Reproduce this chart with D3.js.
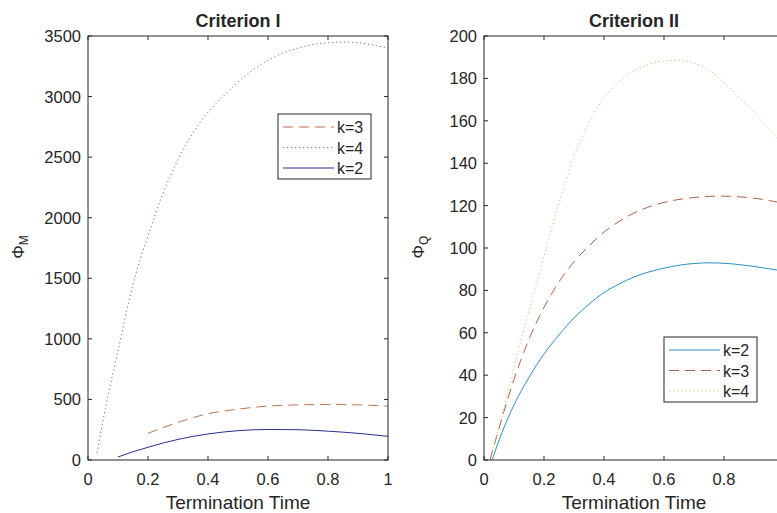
<!DOCTYPE html>
<html>
<head>
<meta charset="utf-8">
<script src="https://cdn.jsdelivr.net/npm/d3@7"></script>
<style>
  body { margin: 0; background: #fff; }
  text { font-family: Helvetica, Arial, "Liberation Sans", sans-serif; fill: #262626; }
</style>
</head>
<body>
<div class="chart"></div>
<script>
(function() {
  var width = 777, height = 513;

  // tick labels
  var xTicks = [0, 0.2, 0.4, 0.6, 0.8, 1];
  var yTicksI = [0, 500, 1000, 1500, 2000, 2500, 3000, 3500];
  var yTicksII = [0, 20, 40, 60, 80, 100, 120, 140, 160, 180, 200];

  // Criterion I
  var c1k2T = [0.1, 0.15, 0.2, 0.25, 0.3, 0.35, 0.4, 0.5, 0.6, 0.7, 0.8, 0.9, 1.0];
  var c1k2V = [25, 68, 105, 140, 170, 195, 215, 242, 252, 250, 238, 220, 195];
  var c1k3T = [0.2, 0.25, 0.3, 0.35, 0.4, 0.5, 0.6, 0.7, 0.8, 0.9, 1.0];
  var c1k3V = [220, 268, 310, 350, 382, 420, 445, 455, 458, 455, 445];
  var c1k4T = [0.03, 0.06, 0.1, 0.15, 0.2, 0.25, 0.3, 0.35, 0.4, 0.45, 0.5, 0.55, 0.6, 0.65, 0.7, 0.75, 0.8, 0.85, 0.9, 0.95, 1.0];
  var c1k4V = [60, 450, 900, 1450, 1850, 2200, 2480, 2700, 2870, 3000, 3120, 3220, 3300, 3360, 3400, 3430, 3445, 3450, 3445, 3425, 3400];

  // Criterion II
  var c2k2T = [0.027, 0.06, 0.1, 0.15, 0.2, 0.25, 0.3, 0.35, 0.4, 0.45, 0.5, 0.6, 0.7, 0.75, 0.8, 0.9, 1.0];
  var c2k2V = [0, 13, 26, 39, 50, 59, 67, 73.5, 79, 83, 86.3, 90.5, 92.7, 93, 92.8, 91.3, 89];
  var c2k3T = [0.02, 0.05, 0.1, 0.15, 0.2, 0.25, 0.3, 0.35, 0.4, 0.45, 0.5, 0.6, 0.7, 0.78, 0.9, 1.0];
  var c2k3V = [0, 15, 38, 57, 72, 84, 93.5, 101, 107.5, 112.5, 116.5, 121.5, 123.8, 124.5, 123.5, 121];
  var c2k4T = [0.02, 0.05, 0.1, 0.13, 0.2, 0.25, 0.3, 0.35, 0.4, 0.45, 0.5, 0.55, 0.6, 0.65, 0.7, 0.75, 0.8, 0.85, 0.9, 0.95, 1.0];
  var c2k4V = [0, 16, 44, 60, 96, 121, 143, 159, 171, 178.5, 183.5, 186.6, 188.2, 188.5, 187.3, 184, 178, 171, 164, 156, 148];

  function pts(t, v) {
    return t.map(function(d, i) { return [d, v[i]]; });
  }

  var svg = d3.select(".chart").append("svg")
    .attr("width", width)
    .attr("height", height);
  svg.append("rect").attr("width", width).attr("height", height).attr("fill", "#fff");

  function panel(cfg) {
    var x = d3.scaleLinear().domain([0, 1]).range([cfg.left, cfg.left + 300]);
    var y = d3.scaleLinear().domain([0, cfg.yMax]).range([460, 36]);
    var g = svg.append("g");

    var line = d3.line()
      .x(function(d) { return x(d[0]); })
      .y(function(d) { return y(d[1]); })
      .curve(d3.curveMonotoneX);

    cfg.series.forEach(function(s) {
      g.append("path")
        .attr("d", line(s.data))
        .attr("fill", "none")
        .attr("stroke", s.color)
        .attr("stroke-width", s.width || 1)
        .attr("stroke-dasharray", s.dash);
    });

    // box + inward ticks
    var tl = 4;
    g.append("rect")
      .attr("x", x(0)).attr("y", y(cfg.yMax))
      .attr("width", x(1) - x(0)).attr("height", y(0) - y(cfg.yMax))
      .attr("fill", "none").attr("stroke", "#262626").attr("stroke-width", 1);

    xTicks.forEach(function(t) {
      g.append("line").attr("x1", x(t)).attr("x2", x(t)).attr("y1", y(0)).attr("y2", y(0) - tl)
        .attr("stroke", "#262626");
      g.append("line").attr("x1", x(t)).attr("x2", x(t)).attr("y1", y(cfg.yMax)).attr("y2", y(cfg.yMax) + tl)
        .attr("stroke", "#262626");
      if (x(t) < width - 4) {
        g.append("text").attr("x", x(t)).attr("y", 485)
          .attr("text-anchor", "middle").attr("font-size", 16.5)
          .text(t);
      }
    });
    cfg.yTicks.forEach(function(t) {
      g.append("line").attr("x1", x(0)).attr("x2", x(0) + tl).attr("y1", y(t)).attr("y2", y(t))
        .attr("stroke", "#262626");
      g.append("line").attr("x1", x(1)).attr("x2", x(1) - tl).attr("y1", y(t)).attr("y2", y(t))
        .attr("stroke", "#262626");
      g.append("text").attr("x", x(0) - 7).attr("y", y(t) + 6)
        .attr("text-anchor", "end").attr("font-size", 16.5)
        .text(t);
    });

    g.append("text").attr("x", cfg.left + 150).attr("y", 27)
      .attr("text-anchor", "middle").attr("font-size", 18).attr("font-weight", "bold")
      .attr("fill", "#000")
      .text(cfg.title);

    g.append("text").attr("x", cfg.left + 150).attr("y", 509)
      .attr("text-anchor", "middle").attr("font-size", 19)
      .text("Termination Time");

    var yl = g.append("text")
      .attr("transform", "translate(" + cfg.ylabelX + ",247) rotate(-90)")
      .attr("text-anchor", "middle").attr("font-size", 17);
    yl.append("tspan").text("Φ");
    yl.append("tspan").attr("font-size", 12).attr("dy", 4).text(cfg.sub);

    // legend
    var L = cfg.legend;
    g.append("rect").attr("x", L.x).attr("y", L.y).attr("width", 93).attr("height", 65)
      .attr("fill", "#fff").attr("stroke", "#262626").attr("stroke-width", 1);
    L.order.forEach(function(idx, i) {
      var s = cfg.series[idx];
      var ry = L.y + 13 + i * 20.5;
      g.append("line").attr("x1", L.x + 5).attr("x2", L.x + 56).attr("y1", ry).attr("y2", ry)
        .attr("stroke", s.color).attr("stroke-width", s.width || 1).attr("stroke-dasharray", s.dash);
      g.append("text").attr("x", L.x + 59).attr("y", ry + 6).attr("font-size", 16).text(s.name);
    });
  }

  panel({
    left: 88, yMax: 3500, yTicks: yTicksI, title: "Criterion I", sub: "M", ylabelX: 24,
    series: [
      {name: "k=3", data: pts(c1k3T, c1k3V), color: "#b8744e", dash: "10,6"},
      {name: "k=4", data: pts(c1k4T, c1k4V), color: "#a0604a", dash: "1.2,2.8"},
      {name: "k=2", data: pts(c1k2T, c1k2V), color: "#2a2f8f"}
    ],
    legend: {x: 278, y: 114, order: [0, 1, 2]}
  });

  panel({
    left: 484, yMax: 200, yTicks: yTicksII, title: "Criterion II", sub: "Q", ylabelX: 424,
    series: [
      {name: "k=2", data: pts(c2k2T, c2k2V), color: "#2a8fc0"},
      {name: "k=3", data: pts(c2k3T, c2k3V), color: "#a8634a", dash: "10,6"},
      {name: "k=4", data: pts(c2k4T, c2k4V), color: "#e0b870", dash: "1.2,2.8"}
    ],
    legend: {x: 664, y: 337, order: [0, 1, 2]}
  });
})();
</script>
</body>
</html>
